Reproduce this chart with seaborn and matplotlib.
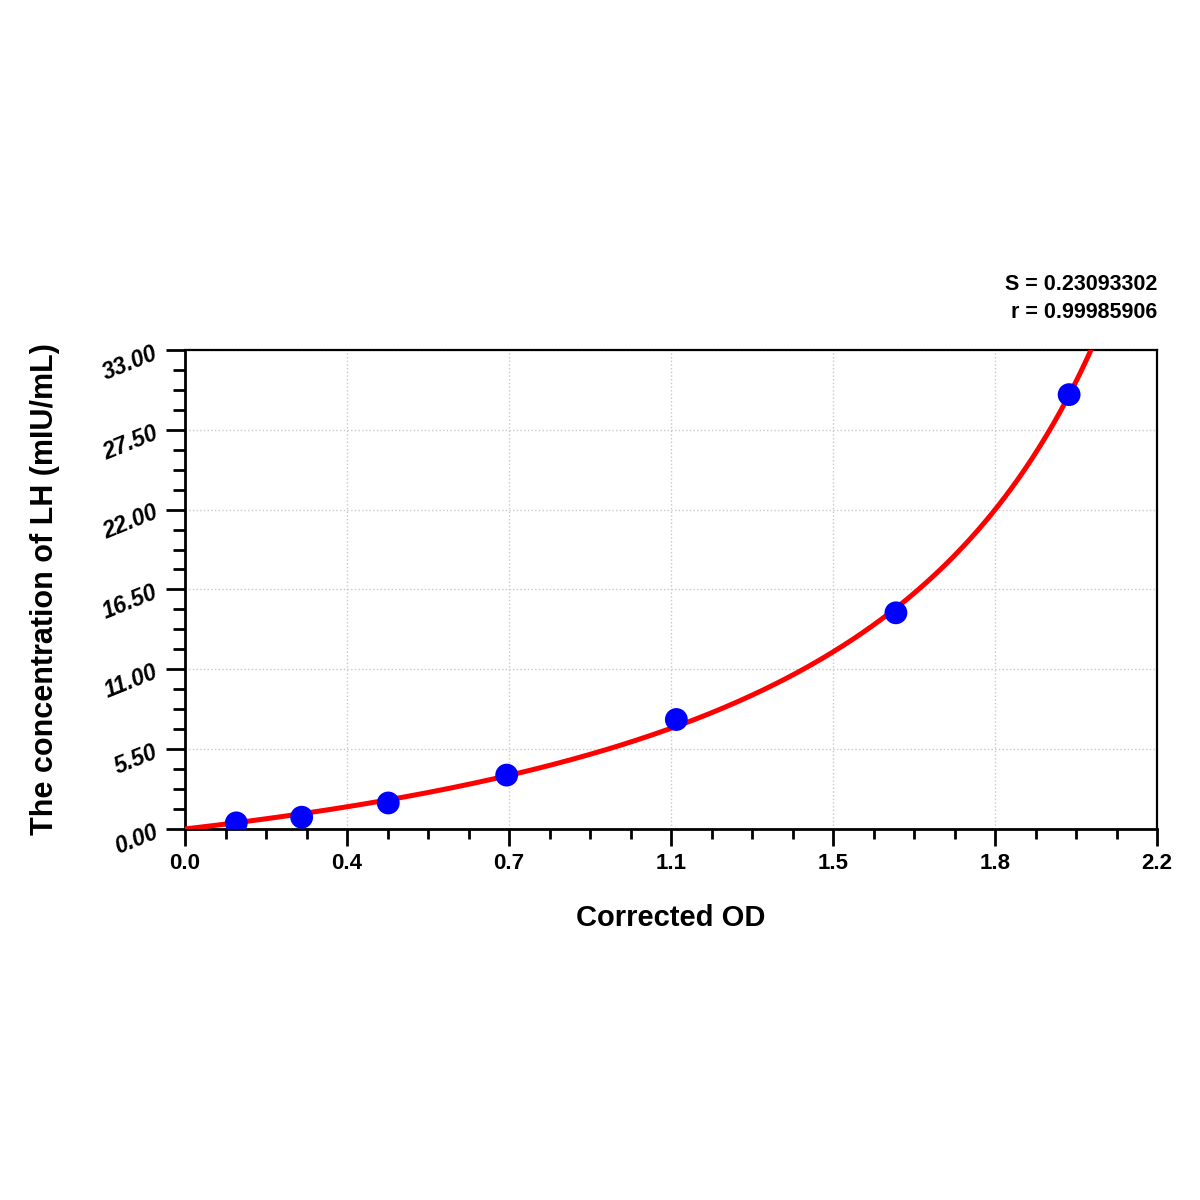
import numpy as np
import pandas as pd
import matplotlib
matplotlib.use("Agg")
import matplotlib.pyplot as plt
import seaborn as sns
from matplotlib.ticker import MultipleLocator, FixedLocator

# standard points
od = [0.116, 0.264, 0.460, 0.728, 1.112, 1.609, 2.001]
conc = [0.42, 0.81, 1.79, 3.71, 7.54, 14.89, 29.92]

x_ticks = [0.0, 2.2 / 6, 2 * 2.2 / 6, 1.1, 4 * 2.2 / 6, 5 * 2.2 / 6, 2.2]
x_tick_labels = ["0.0", "0.4", "0.7", "1.1", "1.5", "1.8", "2.2"]
y_ticks = [0.0, 5.5, 11.0, 16.5, 22.0, 27.5, 33.0]
y_tick_labels = ["0.00", "5.50", "11.00", "16.50", "22.00", "27.50", "33.00"]

stats_text = "S = 0.23093302\nr = 0.99985906"

sns.set_style("white")
plt.rcParams['font.family'] = ['Liberation Sans', 'DejaVu Sans']
plt.rcParams['text.color'] = 'black'
plt.rcParams['axes.labelcolor'] = 'black'
plt.rcParams['xtick.color'] = 'black'
plt.rcParams['ytick.color'] = 'black'

df = pd.DataFrame({"od": od, "conc": conc})

# rational fit: y = (a x + b x^2) / (c - x), solved linearly
xv = np.asarray(od)
yv = np.asarray(conc)
A = np.column_stack([yv, -xv, -xv ** 2])
c, a, b = np.linalg.lstsq(A, xv * yv, rcond=None)[0]
xf = np.linspace(0, 2.08, 400)
xf = xf[xf < c - 0.02]
yf = np.clip((a * xf + b * xf ** 2) / (c - xf), 0, None)
fit = pd.DataFrame({"od": xf, "conc": yf})

fig = plt.figure(figsize=(12, 12), dpi=100)
ax = fig.add_axes([0.1542, 0.3092, 0.81, 0.3992])

sns.lineplot(data=fit, x="od", y="conc", ax=ax, color="#ff0000",
             linewidth=3.6, zorder=3, sort=False)
sns.scatterplot(data=df, x="od", y="conc", ax=ax, color="#0000ff",
                s=270, edgecolor="none", zorder=4)

ax.set_xlim(0, 2.2)
ax.set_ylim(0, 33)

ax.xaxis.set_major_locator(FixedLocator(x_ticks))
ax.set_xticklabels(x_tick_labels, fontsize=16, fontweight="bold")
ax.xaxis.set_minor_locator(MultipleLocator(2.2 / 24))
ax.yaxis.set_major_locator(FixedLocator(y_ticks))
ax.set_yticklabels(y_tick_labels, fontsize=16.5, fontweight="bold",
                   fontstyle="italic", rotation=22, ha="right",
                   rotation_mode="anchor")
ax.yaxis.set_minor_locator(MultipleLocator(1.375))

ax.tick_params(axis="x", which="major", direction="out", length=12,
               width=2, bottom=True, pad=5)
ax.tick_params(axis="x", which="minor", direction="out", length=7,
               width=2, bottom=True)
ax.tick_params(axis="y", which="major", direction="out", length=14,
               width=2, left=True, pad=7)
ax.tick_params(axis="y", which="minor", direction="out", length=9,
               width=2, left=True)

ax.grid(True, which="major", color="#c8c8c8", linestyle=":", linewidth=1)

for side in ["left", "bottom"]:
    ax.spines[side].set_linewidth(2)
for side in ["top", "right"]:
    ax.spines[side].set_linewidth(1.6)
for sp in ax.spines.values():
    sp.set_color("black")

ax.set_xlabel("Corrected OD", fontsize=21, fontweight="bold", labelpad=22)
ax.set_ylabel("The concentration of LH (mIU/mL)", fontsize=22,
              fontweight="bold", labelpad=28)

ax.text(1.0, 1.056, stats_text, transform=ax.transAxes, ha="right",
        va="bottom", fontsize=15.5, fontweight="bold", linespacing=1.45)

fig.savefig("out.png", dpi=100)
